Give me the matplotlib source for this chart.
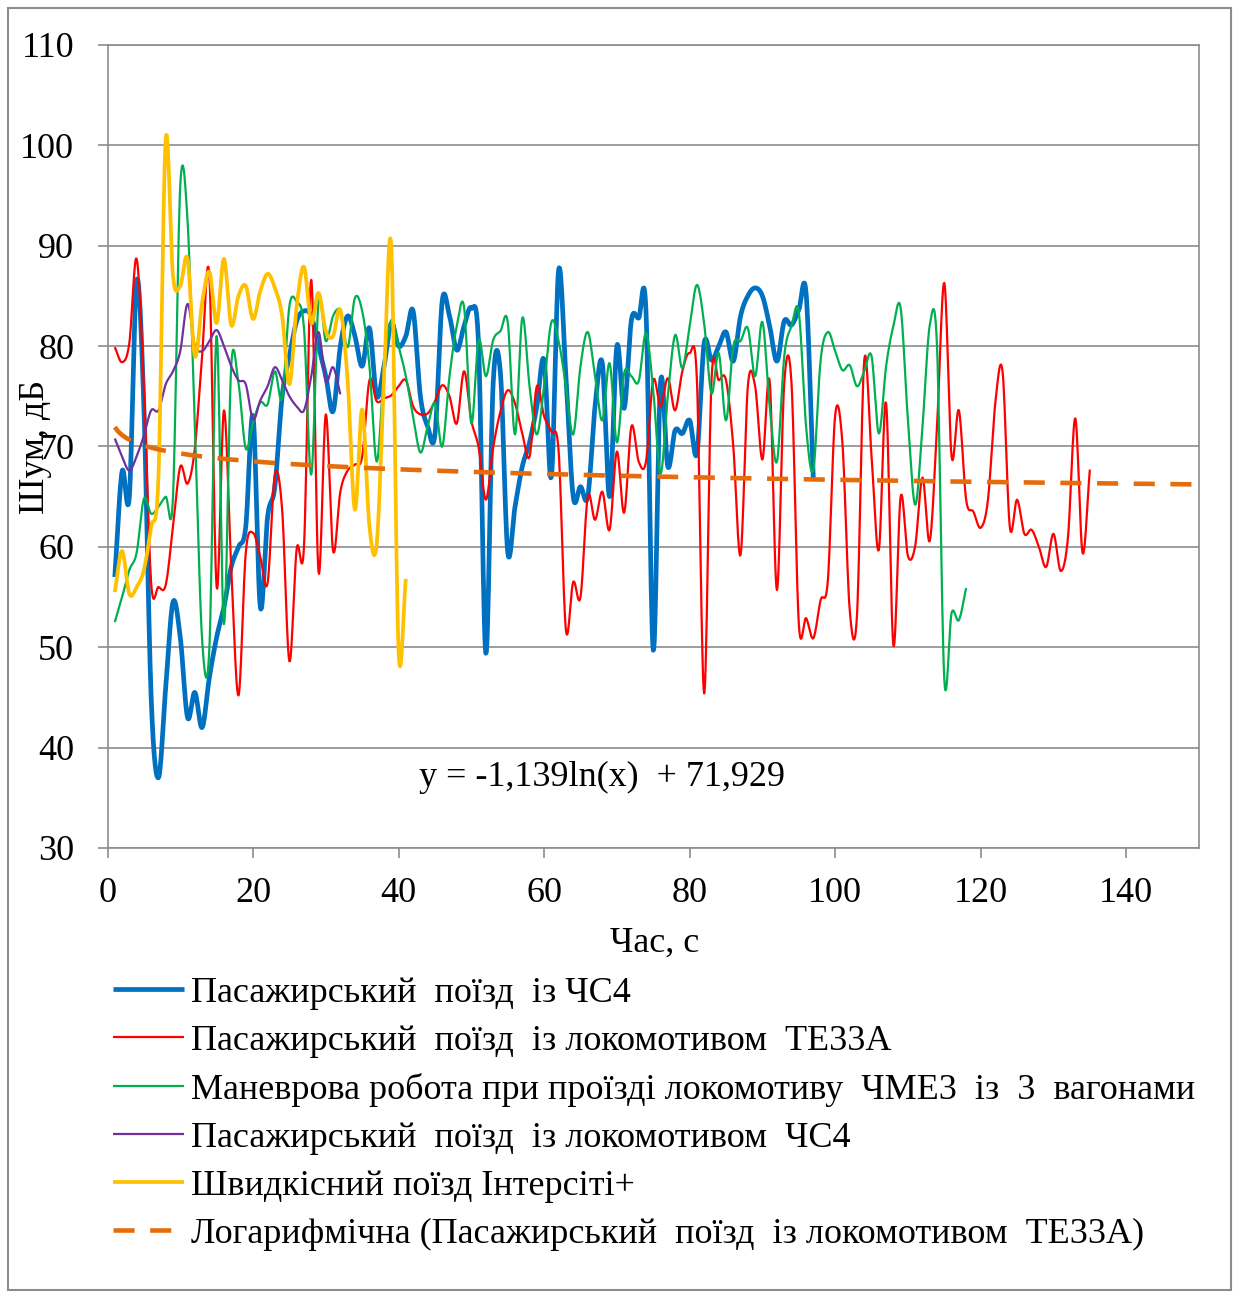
import numpy as np
import matplotlib
matplotlib.use("Agg")
import matplotlib.pyplot as plt
from matplotlib.patches import Rectangle

# === DATA (one value per second) ===

blue_db = [57, 67.5, 65, 86.5, 74, 45, 37, 46, 54.5, 51,
           43, 45.5, 42, 47, 51, 54, 58, 60, 62, 73,
           54, 63, 66, 75, 79, 82.5, 83.5, 83, 80, 77,
           73.5, 80, 83, 81, 78, 81.8, 75, 78, 82.3, 80,
           81, 83.5, 75, 72, 71.2, 84.5, 83, 79.6, 82, 83.8,
           80, 49.4, 76.3, 77.3, 59.5, 64, 68, 70.4, 74, 78.6,
           67, 87.6, 77, 65, 66, 65, 74, 78.3, 65, 80,
           73.8, 82.6, 82.8, 83.5, 49.7, 76.4, 68, 71.6, 71.3, 72.6,
           69.3, 80.3, 78.6, 80, 81.4, 78.5, 83, 85, 85.8, 85,
           82, 78.5, 82.5, 82.1, 83.6, 85.3, 66.7]

red_db = [79.9, 78.4, 80.3, 88.7, 76, 56.4, 56, 56.2, 62, 68,
          66.3, 69.8, 79, 87, 56, 73.6, 58, 45.2, 59.4, 61.4,
          59, 56.4, 67.2, 63.7, 48.6, 59.8, 60, 86.6, 57.5, 73.2,
          59.6, 65.5, 67.6, 68.2, 69, 76.6, 74.5, 74.8, 75.1, 76,
          76.6, 74, 73.2, 73.3, 74.5, 76.1, 75, 72.3, 77.5, 72.6,
          69.9, 64.7, 69.9, 73.5, 75.6, 74.3, 71.3, 69, 76, 73,
          71.5, 69.5, 51.7, 56.5, 55, 65, 62.7, 65.5, 61.7, 69.5,
          63.4, 72, 68.5, 68.5, 76.6, 74, 76.8, 73.6, 77.5, 79.3,
          76.6, 45.4, 76.5, 76.6, 76.6, 70, 59.2, 76, 76, 68.7,
          76.5, 55.7, 76.3, 76.3, 52.4, 52.9, 50.9, 54.7, 56.7, 73.1,
          70.3, 53.7, 53.2, 78.6, 69, 59.7, 74.3, 50.2, 65, 59.1,
          60.1, 66.9, 60.6, 72, 86.3, 69, 73.6, 64.7, 63.5, 61.9,
          64.7, 74.3, 77.5, 62, 64.7, 61.3, 61.7, 60, 58, 61.3,
          57.6, 61, 72.8, 59.4, 67.7]

green_db = [52.5, 55, 57.7, 59.4, 64.8, 63.3, 64, 65, 65, 96,
            92.5, 72.3, 50.8, 49.9, 81, 52.3, 78, 76.3, 69.8, 72.4,
            74.4, 74.2, 77.5, 74.8, 84, 84.4, 81.8, 67.2, 84.4, 80.5,
            83, 83.5, 79.9, 84.8, 83.5, 78, 68.5, 77.5, 82.6, 80,
            77, 73, 69.4, 72, 74.3, 70, 77, 82, 83.9, 72.3,
            80.6, 77, 80.6, 81.5, 82.4, 71.2, 82.8, 76, 71.2, 76,
            82.4, 80.5, 76, 71.2, 78, 81.4, 77, 72.6, 78.3, 70.4,
            77.3, 77, 76.5, 81.3, 75.6, 67.3, 75, 81.1, 77.8, 82,
            86.1, 82.2, 75.3, 79.3, 72.6, 80, 80.5, 81.8, 77, 82.4,
            74, 68.5, 79, 82, 83.4, 72, 67.7, 78.6, 81.4, 79.5,
            77.6, 78.1, 76, 77.5, 79, 71.3, 78, 82, 83.8, 72.6,
            64.2, 72, 82.1, 79.9, 46.8, 53.4, 52.7, 55.9]

purple_db = [70.8, 69, 67.6, 69, 71.1, 73.6, 73.6, 76.2, 77.5, 79.5,
             84.2, 80.1, 79.5, 80.5, 81.6, 80, 78, 76.6, 76.2, 72.7,
             74.6, 76, 77.9, 76.6, 75, 74, 73.6, 77, 81.4, 76.5,
             77.9, 75.2]

yellow_db = [55.5, 59.6, 55.3, 56, 57.7, 62, 67, 100.6, 87, 86,
             88.7, 79, 84.3, 87.4, 82.3, 88.7, 82.1, 85, 86, 82.7,
             85.5, 87.2, 85.8, 83, 76.2, 84, 87.9, 82.3, 85.3, 81.5,
             81, 83.6, 76.6, 63.7, 73.7, 62, 60.3, 76.6, 89.8, 49.7,
             56.8]

# trendline from the chart (Excel log fit to the red series)
trend_a = -1.139
trend_b = 71.929

labels = [
    "Пасажирський  поїзд  із ЧС4",
    "Пасажирський  поїзд  із локомотивом  ТЕ33А",
    "Маневрова робота при проїзді локомотиву  ЧМЕ3  із  3  вагонами",
    "Пасажирський  поїзд  із локомотивом  ЧС4",
    "Швидкісний поїзд Інтерсіті+",
    "Логарифмічна (Пасажирський  поїзд  із локомотивом  ТЕ33А)",
]


def smooth(y, n=14):
    # Catmull-Rom like Excel "smoothed line"
    y = np.asarray(y, float)
    x = np.arange(1, len(y) + 1, dtype=float)
    m = np.gradient(y)
    s = np.linspace(0, 1, n, endpoint=False)
    h00 = 2 * s**3 - 3 * s**2 + 1
    h10 = s**3 - 2 * s**2 + s
    h01 = -2 * s**3 + 3 * s**2
    h11 = s**3 - s**2
    xs, ys = [], []
    for i in range(len(y) - 1):
        xs.append(x[i] + s)
        ys.append(h00 * y[i] + h10 * m[i] + h01 * y[i + 1] + h11 * m[i + 1])
    xs.append([x[-1]])
    ys.append([y[-1]])
    return np.concatenate(xs), np.concatenate(ys)


plt.rcParams["font.family"] = ["Liberation Serif", "DejaVu Serif"]
FS = 26

fig = plt.figure(figsize=(12.33, 12.92), dpi=100)
ax = fig.add_axes([107.5 / 1233, 1 - 848 / 1292, (1199 - 107.5) / 1233, (848 - 45) / 1292])

series = [
    (blue_db, "#0070C0", 3.4),
    (red_db, "#FF0000", 1.6),
    (green_db, "#00B050", 1.6),
    (purple_db, "#7030A0", 1.6),
    (yellow_db, "#FFC000", 2.7),
]
for (vals, col, lw), lab in zip(series, labels):
    xs, ys = smooth(vals)
    ax.plot(xs, ys, color=col, lw=lw, label=lab, solid_capstyle="butt")

tx = np.linspace(1, 149.5, 300)
ax.plot(tx, trend_a * np.log(tx) + trend_b, color="#E46C0A", lw=3.3,
        dashes=(4.6, 3.4), label=labels[5])

ax.set_xlim(0, 150)
ax.set_ylim(30, 110)
ax.set_xticks(np.arange(0, 141, 20))
ax.set_yticks(np.arange(30, 111, 10))
ax.grid(axis="y", color="#8c8c8c", lw=1.2)
ax.set_axisbelow(True)
for sp in ax.spines.values():
    sp.set_color("#8c8c8c")
    sp.set_linewidth(1.2)
ax.tick_params(axis="both", colors="#8c8c8c", labelcolor="black", labelsize=FS,
               length=7, width=1.2, direction="out")
ax.tick_params(axis="x", pad=14)
ax.tick_params(axis="y", pad=17)

ax.set_xlabel("Час, с", fontsize=FS)
ax.xaxis.set_label_coords(0.5016, -0.098)
ax.set_ylabel("Шум, дБ", fontsize=FS, va="center")
ax.yaxis.set_label_coords(-0.066, 0.5)

ax.text(0.453, 0.088, "y = -1,139ln(x)  + 71,929", transform=ax.transAxes,
        fontsize=FS, ha="center", va="center")

leg = fig.legend(loc="upper left", bbox_to_anchor=(99 / 1233, 1 - 962 / 1292),
                 frameon=False, fontsize=FS, handlelength=1.95,
                 handletextpad=0.2, labelspacing=0.41, borderaxespad=0)

# chart border
fig.patches.append(Rectangle((8 / 1233, 2 / 1292), 1223 / 1233, 1282 / 1292,
                             transform=fig.transFigure, fill=False,
                             edgecolor="#8c8c8c", lw=1.5))

plt.savefig("out.png", dpi=100)
